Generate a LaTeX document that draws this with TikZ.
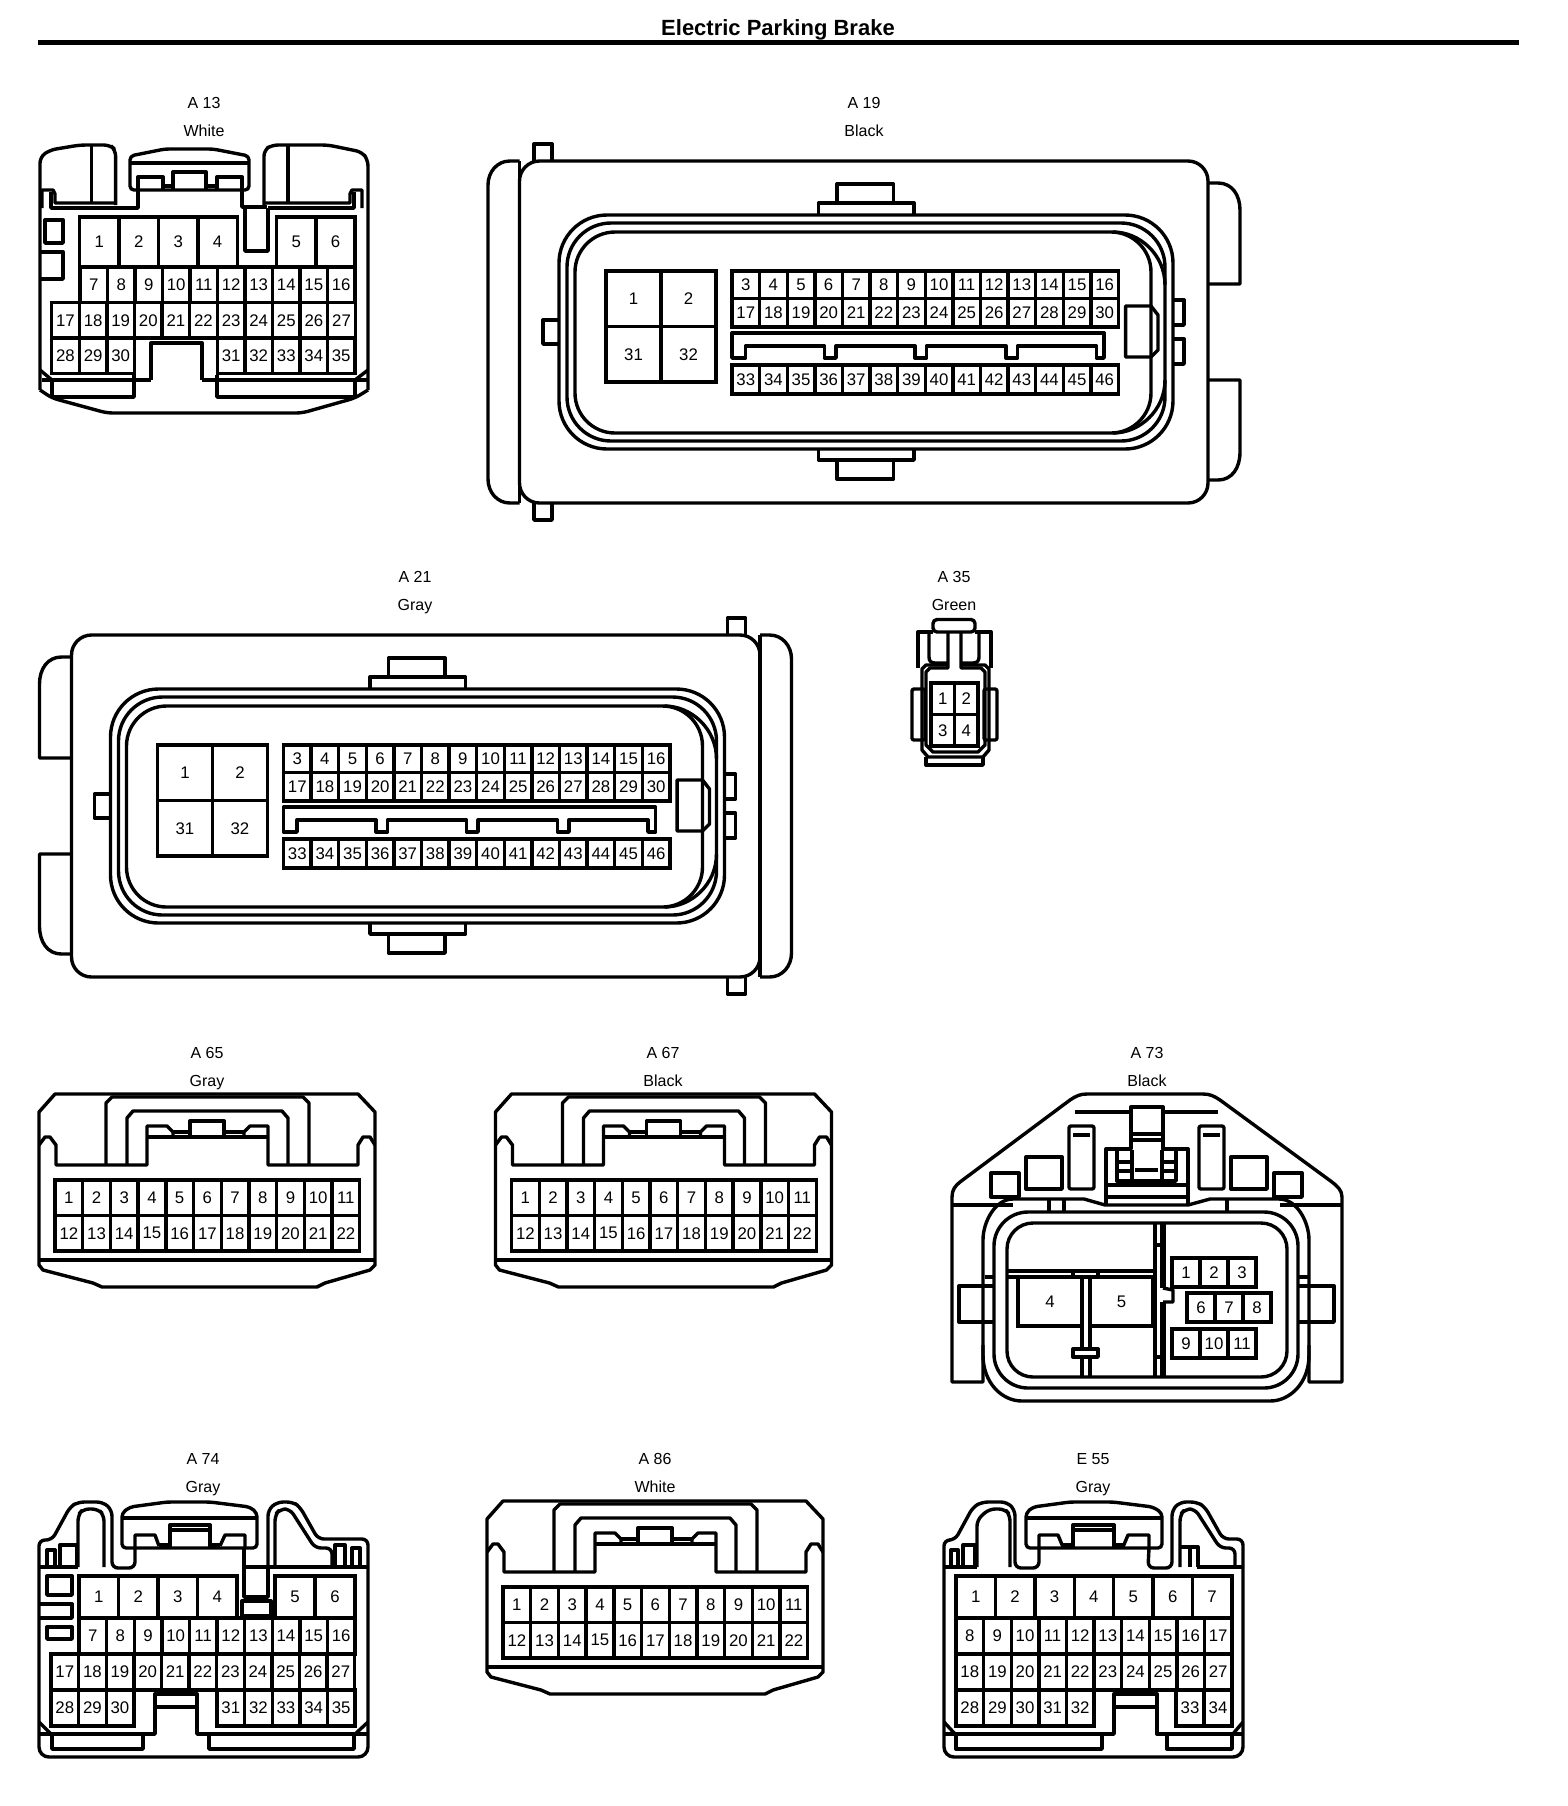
\documentclass[tikz,border=0pt]{standalone}
\usepackage{fontspec}
\setmainfont{Liberation Sans}
\tikzset{
  conn/.style={line width=1.7pt,black,line join=round},
  heavy/.style={line width=2.4pt,black},
  pinbox/.style={draw,line width=1.7pt,anchor=north west,inner sep=0pt,outer sep=0pt,font=\fontsize{8.4}{10}\selectfont},
  tag/.style={inner sep=0pt,anchor=base,font=\fontsize{8}{10}\selectfont},
}
\newcommand{\pinrow}[7]{
  \foreach \n [count=\i from 0] in {#6,...,#7}
    \node[pinbox,minimum width=#4*0.5pt,minimum height=#5*0.5pt] (#1-\n) at ({#2+\i*#4},#3) {\n};
}
\newcommand{\conntag}[5]{
  \node[tag] (#1-code) at (#2,#3+5.5) {#4};
  \node[tag] (#1-colour) at (#2,#3+33) {#5};
}
\newcommand{\ecucentre}[1]{
  \draw[conn] (818.5,215) -- (818.5,203) -- (914,203) -- (914,215);
  \draw[conn] (837,203) -- (837,184) -- (893.5,184) -- (893.5,203);
  \draw[conn] (818.5,449) -- (818.5,460) -- (914,460) -- (914,449);
  \draw[conn] (837,460) -- (837,479) -- (893.5,479) -- (893.5,460);
  \draw[conn,rounded corners=24pt] (559,215) rectangle (1173,449);
  \draw[conn,rounded corners=22pt] (567,223) rectangle (1165,441);
  \draw[conn,rounded corners=20pt] (575,232) rectangle (1151,433);
  \draw[conn] (1113,232) .. controls (1140,232) and (1165,255) .. (1165,285);
  \draw[conn] (1113,433) .. controls (1140,433) and (1165,410) .. (1165,380);
  \draw[conn] (559,320) -- (543,320) -- (543,344) -- (559,344);
  \draw[conn] (1173,300) -- (1184,300) -- (1184,325) -- (1173,325);
  \draw[conn] (1173,339) -- (1184,339) -- (1184,364) -- (1173,364);
  \draw[conn] (1151,306) -- (1125.6,306) -- (1125.6,357) -- (1151,357) -- (1158,350) -- (1158,315) -- cycle;
  \draw[conn] (732,358) -- (732,333) -- (1104,333) -- (1104,358) -- (1096.5,358) -- (1096.5,346) -- (1017.5,346) -- (1017.5,358) -- (1006,358) -- (1006,346) -- (926.6,346) -- (926.6,358) -- (915,358) -- (915,346) -- (836,346) -- (836,358) -- (824.6,358) -- (824.6,346) -- (745.5,346) -- (745.5,358) -- cycle;
  \pinrow{#1}{606}{271}{55}{55.5}{1}{2}
  \pinrow{#1}{606}{326.5}{55}{55.5}{31}{32}
  \pinrow{#1}{732}{271}{27.6}{27.5}{3}{16}
  \pinrow{#1}{732}{298.5}{27.6}{28.5}{17}{30}
  \pinrow{#1}{732}{365}{27.6}{29}{33}{46}
}
\newcommand{\ecuhousing}{
  \draw[conn,rounded corners=10pt] (519.5,161) rectangle (1208,503);
  \draw[conn] (519.5,161) -- (510,161) .. controls (497,161) and (488,172) .. (488,185) -- (488,479) .. controls (488,492) and (497,503) .. (510,503) -- (519.5,503);
  \draw[conn] (519.5,161) -- (519.5,503);
  \draw[conn] (534,161) -- (534,144) -- (552,144) -- (552,161);
  \draw[conn] (534,503) -- (534,520) -- (552,520) -- (552,503);
  \draw[conn] (1208,183) -- (1218,183) .. controls (1232,183) and (1240,195) .. (1240,210) -- (1240,284) -- (1208,284);
  \draw[conn] (1208,380) -- (1240,380) -- (1240,452) .. controls (1240,468) and (1232,480) .. (1218,480) -- (1208,480);
}
\newcommand{\plughousing}[1]{
  \draw[conn] (39,1112) -- (55,1094) -- (358,1094) -- (375,1112) -- (375,1265) -- (370,1270) -- (325,1283) -- (317,1287) -- (102,1287) -- (93,1283) -- (43,1270) -- (39,1265) -- cycle;
  \draw[conn] (39,1260) -- (375,1260);
  \draw[conn] (39,1145) -- (45,1137) -- (50,1137) -- (56,1145) -- (56,1165) -- (147,1165) -- (147,1126) -- (167,1126) -- (173,1132) -- (173,1137);
  \draw[conn] (375,1145) -- (370,1137) -- (363,1137) -- (358,1145) -- (358,1165) -- (268,1165) -- (268,1126) -- (250,1126) -- (244,1132) -- (244,1137);
  \draw[conn] (147,1137) -- (268,1137);
  \draw[conn] (173,1132) -- (190,1132);
  \draw[conn] (224,1132) -- (244,1132);
  \draw[conn] (190,1137) -- (190,1121) -- (224,1121) -- (224,1137);
  \draw[conn] (106,1165) -- (106,1103) -- (112,1097) -- (303,1097) -- (309,1103) -- (309,1165);
  \draw[conn] (127,1165) -- (127,1118) -- (133,1111) -- (282,1111) -- (288,1118) -- (288,1165);
  \pinrow{#1}{55}{1180}{27.7}{35.5}{1}{11}
  \pinrow{#1}{55}{1215.5}{27.7}{35.5}{12}{22}
}
\begin{document}
\begin{tikzpicture}[x=0.5pt,y=-0.5pt]
\useasboundingbox (0,0) rectangle (1568,1806);
\node[inner sep=0pt,font=\fontsize{11}{13}\selectfont\bfseries] (heading) at (778,30) {Electric Parking Brake};
\coordinate (ruleleft) at (38,42.5);
\coordinate (ruleright) at (1519,42.5);
\draw[line width=2.5pt] (ruleleft) -- (ruleright);

\conntag{a13}{204}{103}{A 13}{White}
\draw[conn,rounded corners=3pt] (40,390) -- (40,157) -- (50,150) -- (80,145) -- (110,145) -- (115.6,150) -- (115.6,205);
\draw[conn] (91.7,145) -- (91.7,204);
\draw[conn] (42,208) -- (42,190) -- (53,190) -- (55,194) -- (55,203) -- (115,203);
\draw[conn] (51,192) -- (51,208) -- (138,208) -- (138,190);
\draw[conn,rounded corners=2pt] (130,190) -- (130,156) -- (165,149) -- (213,149) -- (249,156) -- (249,190) -- cycle;
\draw[conn] (130,163) -- (249,163);
\draw[conn] (138,190) -- (138,177) -- (163,177) -- (163,190);
\draw[conn] (173,190) -- (173,172) -- (206,172) -- (206,190);
\draw[conn] (217,190) -- (217,177) -- (242,177) -- (242,190);
\draw[conn] (163,186) -- (173,186);
\draw[conn] (206,186) -- (217,186);
\draw[conn] (242,190) -- (242,207) -- (267,207);
\draw[conn] (245,208) -- (245,251) -- (268,251) -- (268,208);
\draw[conn,rounded corners=3pt] (264,205) -- (264,150) -- (272,145) -- (328,145) -- (362,152) -- (368,160) -- (368,390);
\draw[conn] (288,145) -- (288,204);
\draw[conn] (264,203) -- (350,203) -- (350,194) -- (352,190) -- (362,190) -- (362,208);
\draw[conn] (354,192) -- (354,208) -- (268,208);
\draw[conn] (45,220) rectangle (63,243);
\draw[conn] (41,252) -- (63,252) -- (63,279) -- (41,279);
\pinrow{a13}{79.7}{217}{39.4}{50}{1}{4}
\pinrow{a13}{276.7}{217}{39.2}{50}{5}{6}
\pinrow{a13}{80}{267}{27.5}{35.5}{7}{16}
\pinrow{a13}{51.7}{302.5}{27.6}{35.5}{17}{27}
\pinrow{a13}{51.7}{338}{27.6}{35.5}{28}{30}
\pinrow{a13}{217.5}{338}{27.5}{35.5}{31}{35}
\draw[conn] (151,380) -- (151,343) -- (202,343) -- (202,380);
\draw[conn] (42,380) -- (151,380);
\draw[conn] (202,380) -- (368,380);
\draw[conn] (40,370) -- (52,380);
\draw[conn] (368,370) -- (355,380);
\draw[conn] (52,380) -- (52,397) -- (134,397) -- (134,375);
\draw[conn] (217,375) -- (217,397) -- (355,397) -- (355,380);
\draw[conn,rounded corners=3pt] (40,390) -- (52,398) -- (107,413) -- (302,413) -- (355,398) -- (368,390);

\conntag{a19}{864}{103}{A 19}{Black}
\ecuhousing
\ecucentre{a19}

\conntag{a21}{415}{577}{A 21}{Gray}
\begin{scope}[shift={(1279.5,474)},xscale=-1]
\ecuhousing
\end{scope}
\begin{scope}[shift={(-448.5,474)}]
\ecucentre{a21}
\end{scope}

\conntag{a35}{954}{577}{A 35}{Green}
\draw[conn,rounded corners=2pt] (933,619.5) rectangle (975,632);
\draw[conn] (933,632) -- (918,632) -- (918,668);
\draw[conn] (975,632) -- (991,632) -- (991,668);
\draw[conn] (929,632) -- (929,657) .. controls (929,661) and (931,663) .. (935,663) -- (948,663);
\draw[conn] (979,632) -- (979,657) .. controls (979,661) and (977,663) .. (973,663) -- (961,663);
\draw[conn] (948,632) -- (948,668) -- (930,668) -- (926,672) -- (926,745) -- (933,752) -- (978,752) -- (985,745) -- (985,672) -- (981,668) -- (961,668) -- (961,632);
\draw[conn] (948,665) -- (926,665) -- (922,669) -- (922,750) -- (928,757) -- (983,757) -- (989,750) -- (989,669) -- (985,665) -- (961,665);
\draw[conn,rounded corners=1pt] (912,689) rectangle (925,740);
\draw[conn,rounded corners=1pt] (984,689) rectangle (997,740);
\draw[conn] (926,757) -- (926,765) -- (983,765) -- (983,757);
\pinrow{a35}{931}{683}{23.5}{31.5}{1}{2}
\pinrow{a35}{931}{714.5}{23.5}{31.5}{3}{4}

\conntag{a65}{207}{1053}{A 65}{Gray}
\plughousing{a65}

\conntag{a67}{663}{1053}{A 67}{Black}
\begin{scope}[shift={(456.5,0)}]
\plughousing{a67}
\end{scope}

\conntag{a73}{1147}{1053}{A 73}{Black}
\draw[conn] (983,1345) -- (983,1382) -- (952,1382) -- (952,1197) .. controls (952,1190) and (955,1186) .. (960,1182) -- (1070,1100) .. controls (1076,1096) and (1080,1094) .. (1087,1094) -- (1203,1094) .. controls (1210,1094) and (1214,1096) .. (1220,1100) -- (1332,1182) .. controls (1337,1186) and (1342,1190) .. (1342,1197) -- (1342,1382) -- (1309,1382) -- (1309,1345);
\draw[conn] (952,1205) -- (1013,1205);
\draw[conn] (1280,1205) -- (1342,1205);
\draw[conn] (1013,1199) -- (1084,1199) -- (1105,1205) -- (1188,1205) -- (1210,1199) -- (1279,1199) .. controls (1297,1199) and (1309,1222) .. (1309,1240) -- (1309,1355) .. controls (1309,1383) and (1290,1401) .. (1270,1401) -- (1022,1401) .. controls (1002,1401) and (983,1383) .. (983,1355) -- (983,1240) .. controls (983,1222) and (995,1199) .. cycle;
\draw[conn,rounded corners=17pt] (994,1212) rectangle (1298,1388);
\draw[conn,rounded corners=13pt] (1007,1223) rectangle (1287,1377);
\draw[conn] (994,1322) -- (959,1322) -- (959,1286) -- (994,1286);
\draw[conn] (1298,1322) -- (1334,1322) -- (1334,1286) -- (1298,1286);
\draw[conn] (985,1277) -- (994,1277);
\draw[conn] (1298,1277) -- (1308,1277);
\draw[conn] (1155,1223) -- (1155,1377);
\draw[line width=2.6pt] (1163,1223) -- (1163,1288);
\draw[line width=2.6pt] (1163,1302) -- (1163,1377);
\draw[conn] (1155,1245) -- (1163,1245);
\draw[conn] (1155,1357) -- (1163,1357);
\draw[conn] (1163,1288) -- (1173,1290) -- (1173,1302) -- (1163,1302);
\draw[conn] (1008,1271) -- (1155,1271);
\draw[conn] (1008,1277) -- (1155,1277);
\draw[conn] (1073,1271) -- (1073,1277);
\draw[conn] (1098,1271) -- (1098,1277);
\pinrow{a73}{1018}{1277}{64}{49}{4}{4}
\pinrow{a73}{1090}{1277}{63}{49}{5}{5}
\draw[conn] (1082,1326) -- (1082,1377);
\draw[conn] (1090,1326) -- (1090,1377);
\draw[conn,fill=white] (1073,1349) rectangle (1098,1357);
\pinrow{a73}{1172}{1258}{28}{29}{1}{3}
\pinrow{a73}{1187}{1293}{28}{29}{6}{8}
\pinrow{a73}{1172}{1329}{28}{29}{9}{11}
\draw[conn] (1075,1112) -- (1131,1112);
\draw[conn] (1163,1112) -- (1218,1112);
\draw[conn] (1106,1205) -- (1106,1149) -- (1131,1149) -- (1131,1107) -- (1163,1107) -- (1163,1149) -- (1188,1149) -- (1188,1205);
\draw[conn] (1131,1134) -- (1163,1134);
\draw[conn] (1131,1140) -- (1163,1140);
\draw[conn] (1117,1150) -- (1117,1181) -- (1176,1181) -- (1176,1150);
\draw[conn] (1132,1150) -- (1132,1181);
\draw[conn] (1162,1150) -- (1162,1181);
\draw[conn] (1117,1162) -- (1132,1162);
\draw[conn] (1117,1171) -- (1132,1171);
\draw[conn] (1162,1162) -- (1176,1162);
\draw[conn] (1162,1171) -- (1176,1171);
\draw[heavy] (1135,1170) -- (1158,1170);
\draw[conn] (1106,1185) -- (1188,1185);
\draw[conn] (1106,1197) -- (1188,1197);
\draw[conn,rounded corners=1pt] (1069,1126) rectangle (1094,1189);
\draw[conn,rounded corners=1pt] (1199,1126) rectangle (1224,1189);
\draw[heavy] (1073,1135) -- (1090,1135);
\draw[heavy] (1203,1135) -- (1220,1135);
\draw[conn] (1026,1157) rectangle (1062,1189);
\draw[conn] (1231,1157) rectangle (1267,1189);
\draw[conn] (991,1173) rectangle (1019,1197);
\draw[conn] (1274,1173) rectangle (1302,1197);
\draw[conn] (1049,1200) -- (1049,1212);
\draw[conn] (1064,1200) -- (1064,1212);
\draw[conn] (1227,1200) -- (1227,1212);

\conntag{a74}{203}{1459}{A 74}{Gray}
\draw[conn,rounded corners=3pt] (39,1567) -- (39,1540) -- (52,1540) -- (70,1507) -- (78,1502) -- (103,1502) -- (112,1510) -- (112,1568) -- (135,1568) -- (135,1548);
\draw[conn,rounded corners=3pt] (78,1567) -- (78,1515) -- (83,1509) -- (98,1509) -- (104,1515) -- (104,1567);
\draw[conn] (39,1567) -- (78,1567);
\draw[conn] (47,1567) -- (47,1550) -- (55,1550) -- (55,1567);
\draw[conn] (60,1567) -- (60,1545) -- (77,1545) -- (77,1567);
\draw[conn,rounded corners=2pt] (135,1548) -- (122,1548) -- (122,1513) -- (130,1507) -- (167,1502) -- (210,1502) -- (250,1507) -- (257,1513) -- (257,1548) -- cycle;
\draw[conn] (122,1518) -- (257,1518);
\draw[conn] (135,1548) -- (135,1535) -- (155,1535) -- (159,1546);
\draw[conn] (170,1548) -- (170,1525) -- (210,1525) -- (210,1548);
\draw[conn] (170,1530) -- (210,1530);
\draw[conn] (159,1545) -- (170,1545);
\draw[conn] (210,1545) -- (220,1545);
\draw[conn] (220,1546) -- (225,1535) -- (245,1535) -- (245,1548);
\draw[conn] (244,1548) -- (244,1597) -- (268,1597) -- (268,1567);
\draw[conn] (244,1567) -- (268,1567);
\draw[conn,rounded corners=3pt] (268,1567) -- (268,1510) -- (277,1502) -- (293,1502) -- (300,1507) -- (318,1539) -- (368,1539) -- (368,1567);
\draw[conn,rounded corners=3pt] (275,1567) -- (275,1515) -- (280,1509) -- (290,1509) -- (315,1548) -- (332,1548) -- (332,1567);
\draw[conn] (335,1567) -- (335,1545) -- (345,1545) -- (345,1567);
\draw[conn] (352,1567) -- (352,1548) -- (360,1548) -- (360,1567);
\draw[conn] (268,1567) -- (368,1567);
\draw[conn] (47,1576) rectangle (72,1595);
\draw[conn] (40,1604) -- (72,1604) -- (72,1618) -- (40,1618);
\draw[conn] (47,1627) rectangle (72,1639);
\draw[conn] (242,1601) rectangle (271,1616);
\pinrow{a74}{79}{1576}{39.5}{42}{1}{4}
\pinrow{a74}{275}{1576}{40}{42}{5}{6}
\pinrow{a74}{79}{1618}{27.6}{36}{7}{16}
\pinrow{a74}{51}{1654}{27.6}{36}{17}{27}
\pinrow{a74}{51}{1690}{27.6}{36}{28}{30}
\pinrow{a74}{217}{1690}{27.6}{36}{31}{35}
\draw[conn] (39,1734) -- (155,1734) -- (155,1694) -- (197,1694) -- (197,1734) -- (368,1734);
\draw[conn] (155,1707) -- (197,1707);
\draw[conn] (52,1735) -- (52,1749) -- (143,1749) -- (143,1735);
\draw[conn] (209,1735) -- (209,1749) -- (354,1749) -- (354,1735);
\draw[conn] (39,1722) -- (52,1735);
\draw[conn] (368,1722) -- (354,1735);
\draw[conn,rounded corners=5pt] (39,1567) -- (39,1757) -- (368,1757) -- (368,1567);

\conntag{a86}{655}{1459}{A 86}{White}
\begin{scope}[shift={(448,407)}]
\plughousing{a86}
\end{scope}

\conntag{e55}{1093}{1459}{E 55}{Gray}
\draw[conn,rounded corners=3pt] (944,1567) -- (944,1540) -- (955,1540) -- (973,1507) -- (982,1502) -- (1007,1502) -- (1015,1510) -- (1015,1568) -- (1039,1568) -- (1039,1548);
\draw[conn,rounded corners=3pt] (977,1567) -- (977,1520) -- (989,1509) -- (1005,1509) -- (1010,1515) -- (1010,1567);
\draw[conn] (944,1567) -- (977,1567);
\draw[conn] (951,1567) -- (951,1550) -- (958,1550) -- (958,1567);
\draw[conn] (963,1567) -- (963,1545) -- (975,1545) -- (975,1567);
\draw[conn,rounded corners=2pt] (1039,1548) -- (1026,1548) -- (1026,1513) -- (1033,1507) -- (1070,1502) -- (1113,1502) -- (1153,1507) -- (1162,1513) -- (1162,1548) -- cycle;
\draw[conn] (1026,1518) -- (1162,1518);
\draw[conn] (1039,1548) -- (1039,1535) -- (1058,1535) -- (1063,1547);
\draw[conn] (1073,1548) -- (1073,1525) -- (1114,1525) -- (1114,1548);
\draw[conn] (1073,1530) -- (1114,1530);
\draw[conn] (1063,1545) -- (1073,1545);
\draw[conn] (1114,1545) -- (1123,1545);
\draw[conn] (1123,1547) -- (1128,1535) -- (1149,1535) -- (1149,1548);
\draw[conn,rounded corners=3pt] (1149,1548) -- (1148,1568) -- (1172,1568) -- (1172,1510) -- (1180,1502) -- (1197,1502) -- (1205,1507) -- (1223,1539) -- (1243,1539) -- (1243,1567);
\draw[conn,rounded corners=3pt] (1180,1567) -- (1180,1515) -- (1185,1509) -- (1195,1509) -- (1220,1548) -- (1235,1548) -- (1235,1567);
\draw[conn] (1180,1547) -- (1198,1547) -- (1198,1567);
\draw[conn] (1190,1547) -- (1190,1567);
\draw[conn] (1197,1567) -- (1243,1567);
\pinrow{e55}{956}{1576}{39.4}{42}{1}{7}
\pinrow{e55}{956}{1618}{27.6}{36}{8}{17}
\pinrow{e55}{956}{1654}{27.6}{36}{18}{27}
\pinrow{e55}{956}{1690}{27.6}{36}{28}{32}
\pinrow{e55}{1176}{1690}{28}{36}{33}{34}
\draw[conn] (944,1734) -- (1114,1734) -- (1114,1694) -- (1157,1694) -- (1157,1734) -- (1243,1734);
\draw[conn] (1114,1707) -- (1157,1707);
\draw[conn] (956,1735) -- (956,1749) -- (1102,1749) -- (1102,1735);
\draw[conn] (1167,1735) -- (1167,1749) -- (1232,1749) -- (1232,1735);
\draw[conn] (944,1722) -- (956,1735);
\draw[conn] (1243,1722) -- (1232,1735);
\draw[conn,rounded corners=5pt] (944,1567) -- (944,1757) -- (1243,1757) -- (1243,1567);
\end{tikzpicture}
\end{document}
